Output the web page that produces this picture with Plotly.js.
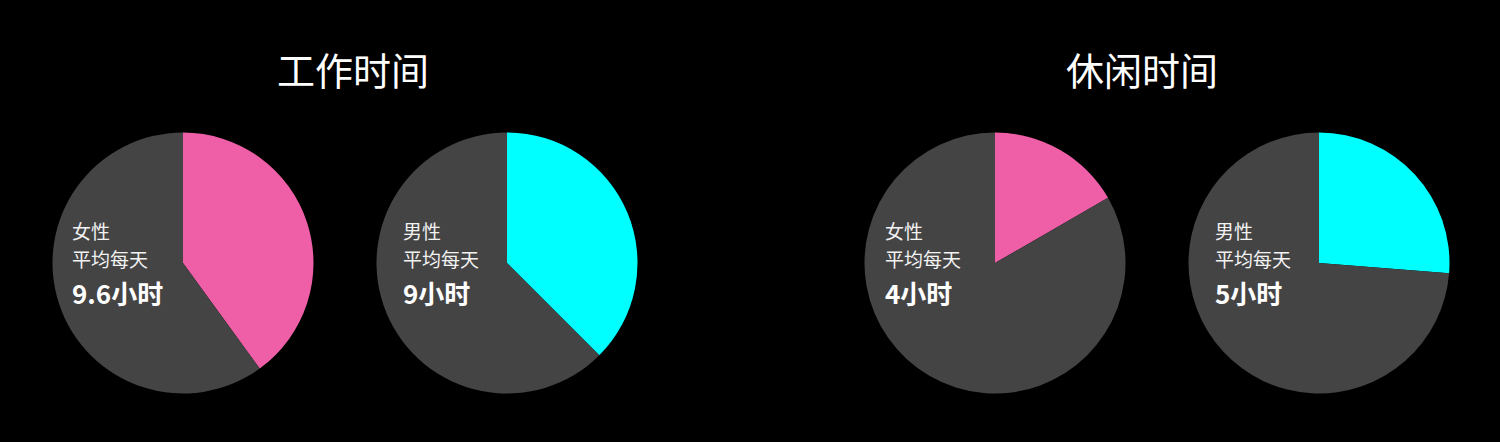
<!DOCTYPE html>
<html>
<head>
<meta charset="utf-8">
<script src="https://cdn.plot.ly/plotly-3.0.1.min.js"></script>
<style>
  html, body { margin: 0; padding: 0; background: #000; }
  #chart { width: 1500px; height: 442px; }
</style>
</head>
<body>
<div id="chart"></div>
<script>
// 每个饼图: 彩色部分 + 灰色剩余部分 (按图中扇形角度读取, 单位: 小时/24)
const groupTitles = ['工作时间', '休闲时间'];
const genders = ['女性', '男性', '女性', '男性'];
const hourLabels = ['9.6小时', '9小时', '4小时', '5小时'];
const sliceShown = [9.6, 9, 4, 6.3];
const sliceRest = [14.4, 15, 20, 17.7];
const sliceColors = ['#ef5fa7', '#00ffff', '#ef5fa7', '#00ffff'];

const W = 1500, H = 442;
const centersX = [183, 507, 995, 1319];
const centerY = 263;
const radius = 130.5;
const font = '"Noto Sans CJK SC", "Noto Sans", sans-serif';

const traces = sliceShown.map((v, i) => ({
  type: 'pie',
  values: [v, sliceRest[i]],
  labels: [genders[i] + '时间', '其余'],
  sort: false,
  direction: 'clockwise',
  rotation: 0,
  textinfo: 'none',
  hoverinfo: 'label+value',
  showlegend: false,
  marker: { colors: [sliceColors[i], '#454445'], line: { width: 0 } },
  domain: {
    x: [(centersX[i] - radius) / W, (centersX[i] + radius) / W],
    y: [(H - centerY - radius) / H, (H - centerY + radius) / H]
  }
}));

const annotations = [];
const titleX = [353, 1142];
groupTitles.forEach((t, i) => {
  annotations.push({
    text: t, x: titleX[i] / W, y: (H - 68) / H, xref: 'paper', yref: 'paper',
    xanchor: 'center', yanchor: 'middle', showarrow: false,
    font: { family: font, size: 38, color: '#ffffff' }
  });
});

// 在 px 位置放一行文字
function label(text, px, py, size, color) {
  annotations.push({
    text: text, x: px / W, y: (H - py) / H, xref: 'paper', yref: 'paper',
    xanchor: 'left', yanchor: 'middle', showarrow: false,
    font: { family: font, size: size, color: color }
  });
}

const labelX = [70, 401, 883, 1213];
genders.forEach((g, i) => {
  label(g, labelX[i], 230.5, 19, '#f2f2f2');
  label('平均每天', labelX[i], 258.5, 19, '#f2f2f2');
  label('<b>' + hourLabels[i] + '</b>', labelX[i], 292.5, 26, '#ffffff');
});

const layout = {
  width: W,
  height: H,
  margin: { t: 0, l: 0, r: 0, b: 0 },
  paper_bgcolor: '#000000',
  plot_bgcolor: '#000000',
  annotations: annotations
};

Plotly.newPlot('chart', traces, layout, { displayModeBar: false, staticPlot: true });
</script>
</body>
</html>
